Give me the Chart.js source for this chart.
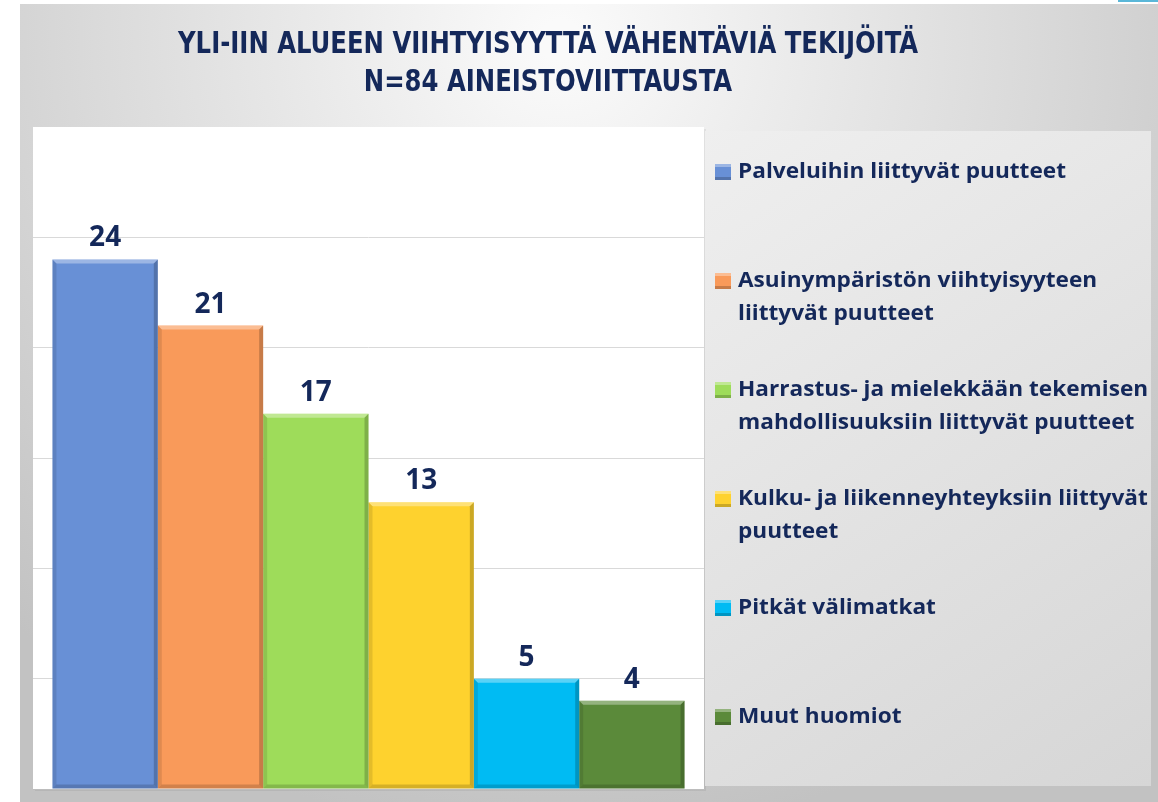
<!DOCTYPE html>
<html><head><meta charset="utf-8">
<script src="https://cdn.jsdelivr.net/npm/chart.js@4.4.1/dist/chart.umd.min.js"></script>
<style>html,body{margin:0;padding:0;background:#fff;overflow:hidden}#wrap{width:1158px;height:802px;position:relative}</style>
</head><body><div id="wrap"><canvas id="c" width="1158" height="802"></canvas></div>
<script>
const titleLines = ['YLI-IIN ALUEEN VIIHTYISYYTTÄ VÄHENTÄVIÄ TEKIJÖITÄ', 'N=84 AINEISTOVIITTAUSTA'];
const categories = [''];
const seriesNames = [
  'Palveluihin liittyvät puutteet',
  'Asuinympäristön viihtyisyyteen liittyvät puutteet',
  'Harrastus- ja mielekkään tekemisen mahdollisuuksiin liittyvät puutteet',
  'Kulku- ja liikenneyhteyksiin liittyvät puutteet',
  'Pitkät välimatkat',
  'Muut huomiot'
];
const seriesValues = [24, 21, 17, 13, 5, 4];
const seriesColors = ['#6890D6', '#F99A5A', '#9EDC5A', '#FED22E', '#00BBF3', '#5B8A3A'];
const yTicks = [0, 5, 10, 15, 20, 25, 30];

const NAVY = '#14285A';

const decor = {
  id: 'decor',
  beforeDraw(chart) {
    const ctx = chart.ctx;
    const W = chart.width, H = chart.height;
    ctx.save();
    ctx.fillStyle = '#ffffff';
    ctx.fillRect(0, 0, W, H);
    const g = ctx.createRadialGradient(560, 40, 20, 560, 40, 800);
    g.addColorStop(0, '#fafafa');
    g.addColorStop(1, '#c2c2c2');
    ctx.fillStyle = g;
    ctx.fillRect(20, 4, W - 20, H - 4);
    ctx.fillStyle = '#5ab7d8';
    ctx.fillRect(1118, 0, 40, 2);
    const a = chart.chartArea;
    ctx.fillStyle = 'rgba(0,0,0,0.06)';
    ctx.fillRect(a.left + 2, a.top + 2, a.right - a.left, a.bottom - a.top);
    ctx.fillStyle = '#ffffff';
    ctx.fillRect(a.left, a.top, a.right - a.left, a.bottom - a.top);
    const lg = ctx.createLinearGradient(705, 130, 1151, 786);
    lg.addColorStop(0, '#efefef');
    lg.addColorStop(1, '#d6d6d6');
    ctx.fillStyle = lg;
    ctx.fillRect(705, 131, 446, 655);
    ctx.restore();
  },
  afterDatasetsDraw(chart) {
    const ctx = chart.ctx;
    ctx.save();
    chart.data.datasets.forEach((ds, i) => {
      const meta = chart.getDatasetMeta(i);
      meta.data.forEach((el, j) => {
        const p = el.getProps(['x', 'y', 'base', 'width'], true);
        const l = p.x - p.width / 2, r = p.x + p.width / 2, t = p.y, b = p.base;
        const d = 4;
        ctx.fillStyle = 'rgba(255,255,255,0.35)';
        ctx.beginPath(); ctx.moveTo(l, t); ctx.lineTo(r, t); ctx.lineTo(r - d, t + d); ctx.lineTo(l + d, t + d); ctx.closePath(); ctx.fill();
        ctx.fillStyle = 'rgba(0,0,0,0.20)';
        ctx.beginPath(); ctx.moveTo(r, t); ctx.lineTo(r, b); ctx.lineTo(r - d, b - d); ctx.lineTo(r - d, t + d); ctx.closePath(); ctx.fill();
        ctx.fillStyle = 'rgba(0,0,0,0.16)';
        ctx.beginPath(); ctx.moveTo(l, b); ctx.lineTo(r, b); ctx.lineTo(r - d, b - d); ctx.lineTo(l + d, b - d); ctx.closePath(); ctx.fill();
        ctx.fillStyle = 'rgba(0,0,0,0.10)';
        ctx.beginPath(); ctx.moveTo(l, t); ctx.lineTo(l + d, t + d); ctx.lineTo(l + d, b - d); ctx.lineTo(l, b); ctx.closePath(); ctx.fill();
        ctx.fillStyle = NAVY;
        ctx.font = 'bold 28px "Open Sans", "DejaVu Sans", sans-serif';
        ctx.textAlign = 'center';
        ctx.textBaseline = 'alphabetic';
        ctx.fillText(String(ds.data[j]), p.x, t - 13);
      });
    });
    ctx.restore();
  },
  afterDraw(chart) {
    const ctx = chart.ctx;
    ctx.save();
    ctx.fillStyle = NAVY;
    ctx.font = 'bold 31px "Liberation Sans Narrow", "DejaVu Sans Condensed", "DejaVu Sans", sans-serif';
    ctx.textAlign = 'center';
    ctx.textBaseline = 'alphabetic';
    const tw = ctx.measureText(titleLines[0]).width;
    const sx = 740 / tw;
    const baselines = [53, 91];
    titleLines.forEach((line, k) => {
      ctx.save();
      ctx.translate(548, baselines[k]);
      ctx.scale(sx, 1);
      ctx.fillText(line, 0, 0);
      ctx.restore();
    });
    ctx.font = 'bold 21px "Open Sans", "DejaVu Sans", sans-serif';
    ctx.textAlign = 'left';
    const lsx = 328 / ctx.measureText(seriesNames[0]).width;
    const maxW = 418;
    chart.data.datasets.forEach((ds, i) => {
      const words = ds.label.split(' ');
      const lines = [];
      let cur = '';
      words.forEach(w => {
        const test = cur ? cur + ' ' + w : w;
        if (cur && ctx.measureText(test).width * lsx > maxW) { lines.push(cur); cur = w; }
        else cur = test;
      });
      if (cur) lines.push(cur);
      const by = 178 + i * 109;
      const mx = 715, my = by - 14, ms = 16;
      ctx.fillStyle = ds.backgroundColor;
      ctx.fillRect(mx, my, ms, ms);
      ctx.fillStyle = 'rgba(255,255,255,0.35)';
      ctx.fillRect(mx, my, ms, 3);
      ctx.fillStyle = 'rgba(0,0,0,0.2)';
      ctx.fillRect(mx, my + ms - 3, ms, 3);
      ctx.fillStyle = NAVY;
      lines.forEach((ln, k) => {
        ctx.save();
        ctx.translate(738, by + k * 33);
        ctx.scale(lsx, 1);
        ctx.fillText(ln, 0, 0);
        ctx.restore();
      });
    });
    ctx.restore();
  }
};

new Chart(document.getElementById('c'), {
  type: 'bar',
  data: {
    labels: categories,
    datasets: seriesNames.map((n, i) => ({
      label: n,
      data: [seriesValues[i]],
      backgroundColor: seriesColors[i],
      borderWidth: 0,
      categoryPercentage: 0.942,
      barPercentage: 1
    }))
  },
  options: {
    responsive: false,
    animation: false,
    devicePixelRatio: 1,
    layout: { padding: { left: 33, right: 454, top: 127, bottom: 13 } },
    plugins: { legend: { display: false }, title: { display: false }, tooltip: { enabled: false } },
    scales: {
      x: {
        grid: { display: false },
        ticks: { display: false },
        border: { display: true, color: '#bdbdbd', width: 1 },
        afterFit(s) { s.height = 0; }
      },
      y: {
        min: 0, max: 30,
        afterBuildTicks(s) { s.ticks = yTicks.map(v => ({ value: v })); },
        ticks: { display: false },
        grid: {
          drawTicks: false,
          color: c => (c.tick && (c.tick.value === 30 || c.tick.value === 0)) ? 'rgba(0,0,0,0)' : '#d9d9d9'
        },
        border: { display: false },
        afterFit(s) { s.width = 0; }
      }
    }
  },
  plugins: [decor]
});
</script>
</body></html>
